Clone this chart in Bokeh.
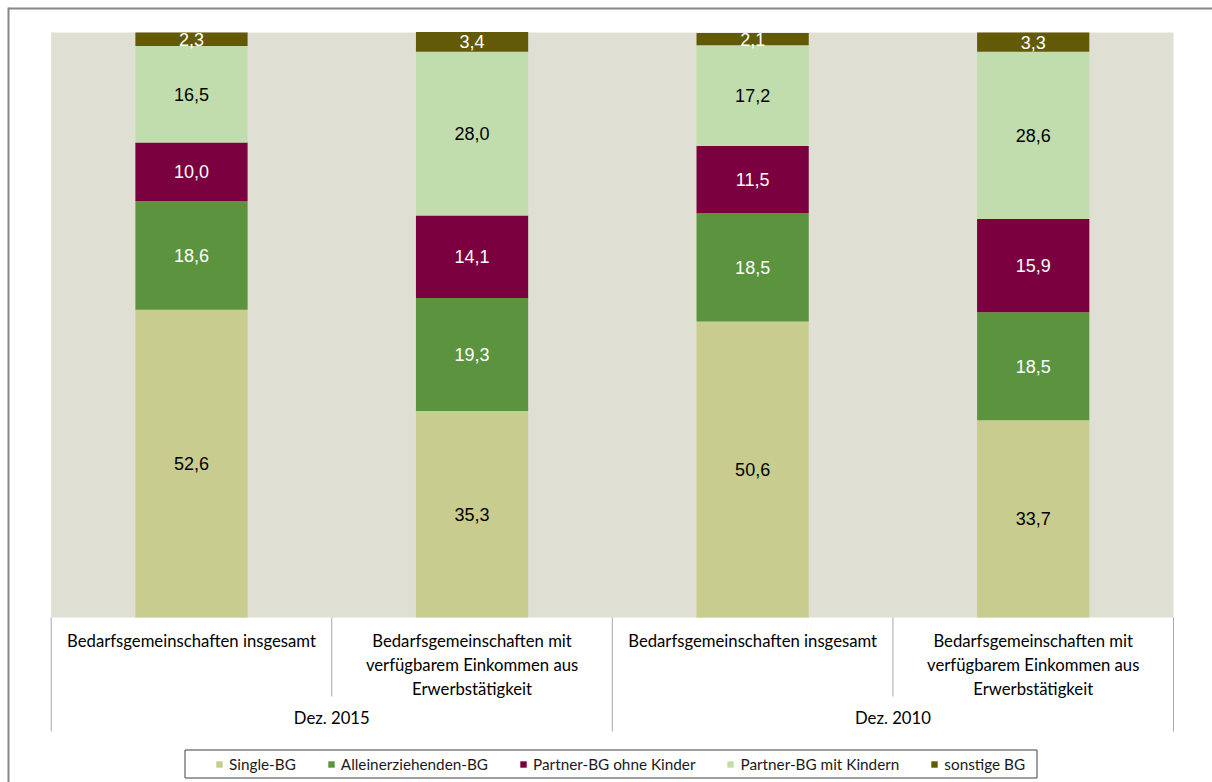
import numpy as np
from bokeh.plotting import figure
from bokeh.models import Range1d, ColumnDataSource
from bokeh.embed import file_html
from bokeh.resources import INLINE
from bokeh.core.properties import value

# ---------------- data ----------------
groups = ["Dez. 2015", "Dez. 2010"]
categories = ["Bedarfsgemeinschaften insgesamt",
              "Bedarfsgemeinschaften mit\nverfügbarem Einkommen aus\nErwerbstätigkeit"]
series = ["Single-BG", "Alleinerziehenden-BG", "Partner-BG ohne Kinder",
          "Partner-BG mit Kindern", "sonstige BG"]
single_bg = [52.6, 35.3, 50.6, 33.7]
alleinerziehenden_bg = [18.6, 19.3, 18.5, 18.5]
partner_ohne_kinder = [10.0, 14.1, 11.5, 15.9]
partner_mit_kindern = [16.5, 28.0, 17.2, 28.6]
sonstige_bg = [2.3, 3.4, 2.1, 3.3]

# ---------------- styles ----------------
colors = ["#c9cc8f", "#5b933e", "#7a0040", "#c1ddad", "#625a06"]
label_colors = ["#000000", "#ffffff", "#ffffff", "#000000", "#ffffff"]
plot_bg = "#dfe0d3"
grid_col = "#a9a9a9"
AXIS_FONT = "Lato"
VAL_FONT = "Liberation Sans"

# ---------------- layout (canvas pixels) ----------------
W, H = 1212, 782
PL, PR = 50.7, 1173.0     # plot area left/right
PT, PB = 32.0, 617.0      # plot area top/bottom
n_bars = len(groups) * len(categories)
xs = n_bars / (PR - PL)
ys = 100.0 / (PB - PT)
x_start, x_end = -PL * xs, n_bars + (W - PR) * xs
y_start, y_end = -(H - PB) * ys, 100 + PT * ys

def ypx(py):
    return 100 - (py - PT) * ys

def xpx(px):
    return (px - PL) * xs

p = figure(width=W, height=H, output_backend="svg", toolbar_location=None,
           x_axis_type=None, y_axis_type=None,
           x_range=Range1d(x_start, x_end), y_range=Range1d(y_start, y_end),
           min_border=0, min_border_left=0, min_border_right=0,
           min_border_top=0, min_border_bottom=0)
p.outline_line_color = None
p.background_fill_color = "white"
p.border_fill_color = "white"

# plot area background
p.quad(left=0, right=n_bars, bottom=0, top=100, fill_color=plot_bg, line_color=None)

# stacked bars
keys = ["s0", "s1", "s2", "s3", "s4"]
vals = [single_bg, alleinerziehenden_bg, partner_ohne_kinder, partner_mit_kindern, sonstige_bg]
xpos = [i + 0.5 for i in range(n_bars)]
src = ColumnDataSource(dict(x=xpos, **{k: v for k, v in zip(keys, vals)}))
p.vbar_stack(keys, x="x", width=0.4, source=src, fill_color=colors,
             line_color=None, legend_label=series)

# value labels
arr = np.array(vals)
cum = np.cumsum(arr, axis=0)
mids = cum - arr / 2
for s in range(len(series)):
    p.text(x=xpos, y=list(mids[s]),
           text=[f"{v:.1f}".replace(".", ",") for v in vals[s]],
           text_align="center", text_baseline="middle",
           text_font=value(VAL_FONT), text_font_size="18px",
           text_color=label_colors[s])

# category table below the plot
n_cat = len(categories)
grp_bounds = [g * n_cat for g in range(len(groups) + 1)]
inner_bounds = [g * n_cat + c for g in range(len(groups)) for c in range(1, n_cat)]
p.segment(x0=grp_bounds, x1=grp_bounds, y0=[0] * len(grp_bounds),
          y1=[ypx(731)] * len(grp_bounds), line_color=grid_col, line_width=1)
p.segment(x0=inner_bounds, x1=inner_bounds, y0=[0] * len(inner_bounds),
          y1=[ypx(696)] * len(inner_bounds), line_color=grid_col, line_width=1)

cat_text = [categories[i % n_cat] for i in range(n_bars)]
p.text(x=xpos, y=[ypx(630)] * n_bars, text=cat_text,
       text_align="center", text_baseline="top", text_line_height=1.2,
       text_font=value(AXIS_FONT), text_font_size="16.7px", text_color="#000000")
p.text(x=[g * n_cat + n_cat / 2 for g in range(len(groups))],
       y=[ypx(717)] * len(groups), text=groups,
       text_align="center", text_baseline="middle",
       text_font=value(AXIS_FONT), text_font_size="16.7px", text_color="#000000")

# outer chart border (left and top)
bx, by = x_start + 8 * xs, y_end - 8 * ys
p.segment(x0=[bx, bx], x1=[bx, x_end], y0=[y_start, by], y1=[y_end - 7 * ys, by],
          line_color="#888888", line_width=2)

# legend frame
p.quad(left=[xpx(184.5)], right=[xpx(1036.5)], top=[ypx(749.5)], bottom=[ypx(777.5)],
       fill_color="white", line_color="#404040", line_width=1)

# legend
lg = p.legend[0]
lg.orientation = "horizontal"
lg.location = (215, 9)
lg.glyph_width = 8
lg.glyph_height = 8
lg.label_standoff = 6
lg.spacing = 31
lg.padding = 6
lg.margin = 0
lg.label_height = 16
lg.label_text_font = AXIS_FONT
lg.label_text_font_size = "15.3px"
lg.label_text_color = "#1a1a1a"
lg.border_line_color = None
lg.background_fill_alpha = 0.0

open("out.html", "w").write(file_html(p, INLINE))
